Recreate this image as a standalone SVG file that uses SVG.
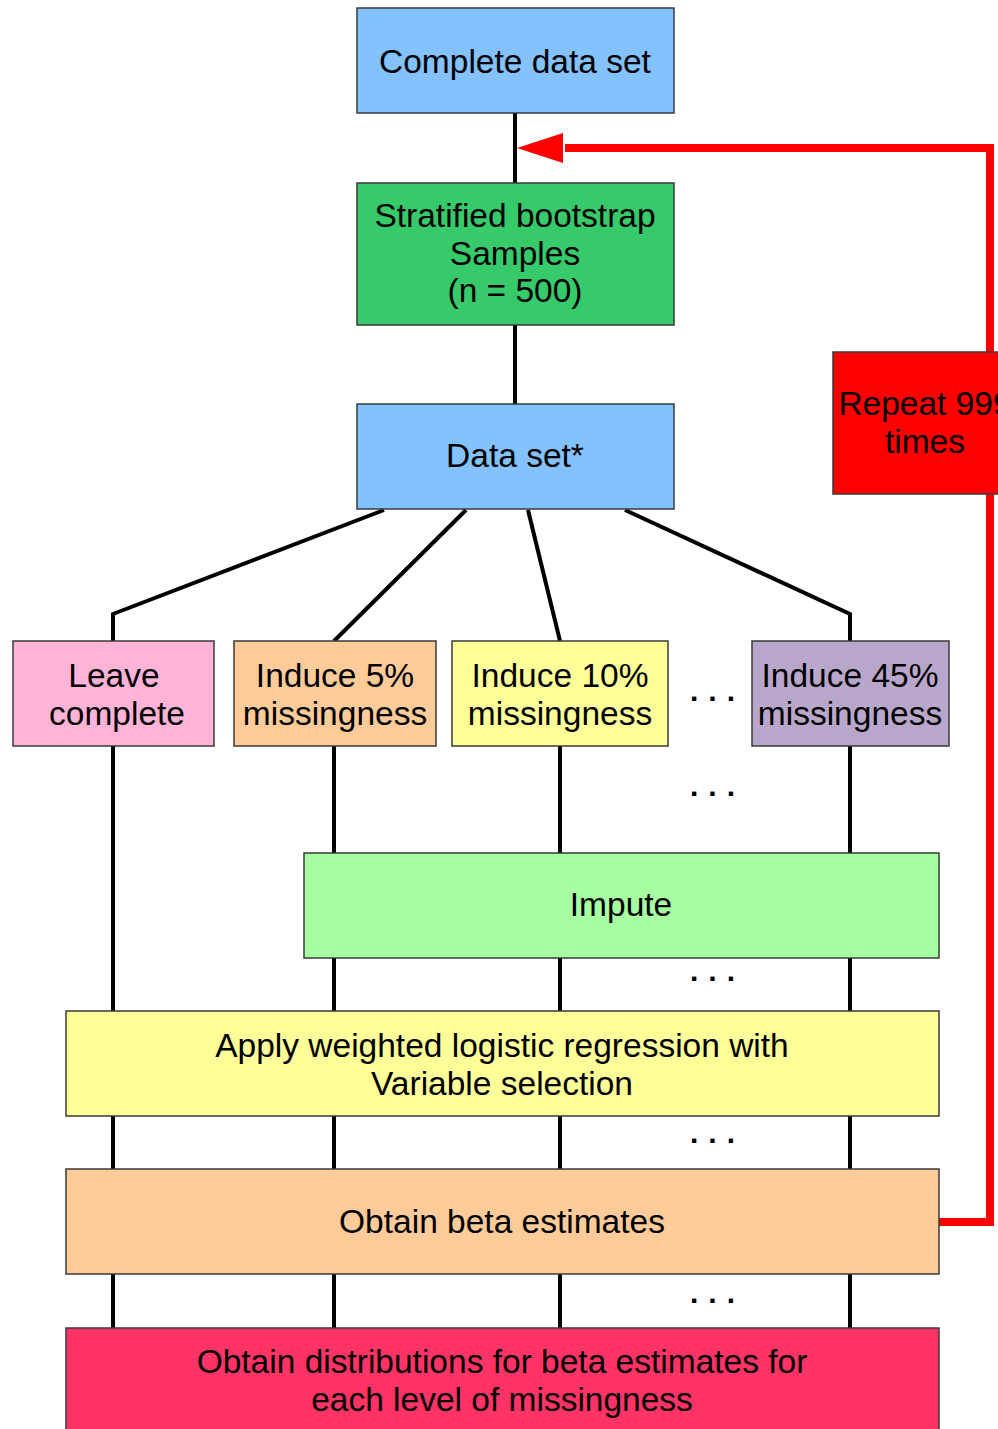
<svg xmlns="http://www.w3.org/2000/svg" width="998" height="1429" viewBox="0 0 998 1429">
<style>
.box{stroke:#3a3a3a;stroke-width:1.5}
.t{font-family:"Liberation Sans",Arial,sans-serif;font-size:33.5px;fill:#000;text-anchor:middle}
.dots{font-family:"Liberation Sans",Arial,sans-serif;font-size:30px;font-weight:bold;fill:#000;letter-spacing:10px}
.c{fill:none;stroke:#000;stroke-width:4}
.r{fill:none;stroke:#ff0000;stroke-width:8}
</style>
<rect width="998" height="1429" fill="#fff"/>
<g id="connectors">
<line class="c" x1="515" y1="113" x2="515" y2="183"/>
<line class="c" x1="515" y1="325" x2="515" y2="404"/>
<polyline class="c" points="384,510 113,614 113,641"/>
<line class="c" x1="466" y1="510" x2="334" y2="641"/>
<line class="c" x1="528" y1="510" x2="560" y2="641"/>
<polyline class="c" points="625,510 850,614 850,641"/>
<line class="c" x1="113" y1="746" x2="113" y2="1011"/>
<line class="c" x1="113" y1="1116" x2="113" y2="1169"/>
<line class="c" x1="113" y1="1274" x2="113" y2="1328"/>
<line class="c" x1="334" y1="746" x2="334" y2="853"/>
<line class="c" x1="334" y1="958" x2="334" y2="1011"/>
<line class="c" x1="334" y1="1116" x2="334" y2="1169"/>
<line class="c" x1="334" y1="1274" x2="334" y2="1328"/>
<line class="c" x1="560" y1="746" x2="560" y2="853"/>
<line class="c" x1="560" y1="958" x2="560" y2="1011"/>
<line class="c" x1="560" y1="1116" x2="560" y2="1169"/>
<line class="c" x1="560" y1="1274" x2="560" y2="1328"/>
<line class="c" x1="850" y1="746" x2="850" y2="853"/>
<line class="c" x1="850" y1="958" x2="850" y2="1011"/>
<line class="c" x1="850" y1="1116" x2="850" y2="1169"/>
<line class="c" x1="850" y1="1274" x2="850" y2="1328"/>
<polyline class="r" points="939,1222 990,1222 990,148 565,148" />
<path d="M563,133 L517,148 L563,163 Z" fill="#ff0000"/>
</g>
<g id="n-complete"><rect class="box" x="357" y="8" width="317" height="105" fill="#83c1ff"/><text class="t" x="515" y="73">Complete data set</text></g>
<g id="n-bootstrap"><rect class="box" x="357" y="183" width="317" height="142" fill="#36ca6a"/><text class="t" x="515" y="227">Stratified bootstrap</text><text class="t" x="515" y="265">Samples</text><text class="t" x="515" y="302">(n = 500)</text></g>
<g id="n-dataset"><rect class="box" x="357" y="404" width="317" height="105" fill="#83c1ff"/><text class="t" x="515" y="467">Data set*</text></g>
<g id="n-repeat"><rect class="box" x="833" y="352" width="184" height="142" fill="#ff0000"/><text class="t" x="925" y="415">Repeat 999</text><text class="t" x="925" y="453">times</text></g>
<g id="n-leave"><rect class="box" x="13" y="641" width="201" height="105" fill="#ffb3d6"/><text class="t" x="114" y="687">Leave</text><text class="t" x="117" y="725">complete</text></g>
<g id="n-5"><rect class="box" x="234" y="641" width="202" height="105" fill="#ffcc99"/><text class="t" x="335" y="687">Induce 5%</text><text class="t" x="335" y="725">missingness</text></g>
<g id="n-10"><rect class="box" x="452" y="641" width="216" height="105" fill="#ffff99"/><text class="t" x="560" y="687">Induce 10%</text><text class="t" x="560" y="725">missingness</text></g>
<g id="n-45"><rect class="box" x="752" y="641" width="197" height="105" fill="#b9a7cb"/><text class="t" x="850" y="687">Induce 45%</text><text class="t" x="850" y="725">missingness</text></g>
<g id="n-impute"><rect class="box" x="304" y="853" width="635" height="105" fill="#a6ffa0"/><text class="t" x="621" y="916">Impute</text></g>
<g id="n-apply"><rect class="box" x="66" y="1011" width="873" height="105" fill="#ffff99"/><text class="t" x="502" y="1057">Apply weighted logistic regression with</text><text class="t" x="502" y="1095">Variable selection</text></g>
<g id="n-beta"><rect class="box" x="66" y="1169" width="873" height="105" fill="#ffcc99"/><text class="t" x="502" y="1233">Obtain beta estimates</text></g>
<g id="n-dist"><rect class="box" x="66" y="1328" width="873" height="110" fill="#ff3366"/><text class="t" x="502" y="1373">Obtain distributions for beta estimates for</text><text class="t" x="502" y="1411">each level of missingness</text></g>
<g id="ellipses">
<text class="dots" x="690" y="701">...</text>
<text class="dots" x="690" y="796">...</text>
<text class="dots" x="690" y="981">...</text>
<text class="dots" x="690" y="1143">...</text>
<text class="dots" x="690" y="1303">...</text>
</g>
</svg>
